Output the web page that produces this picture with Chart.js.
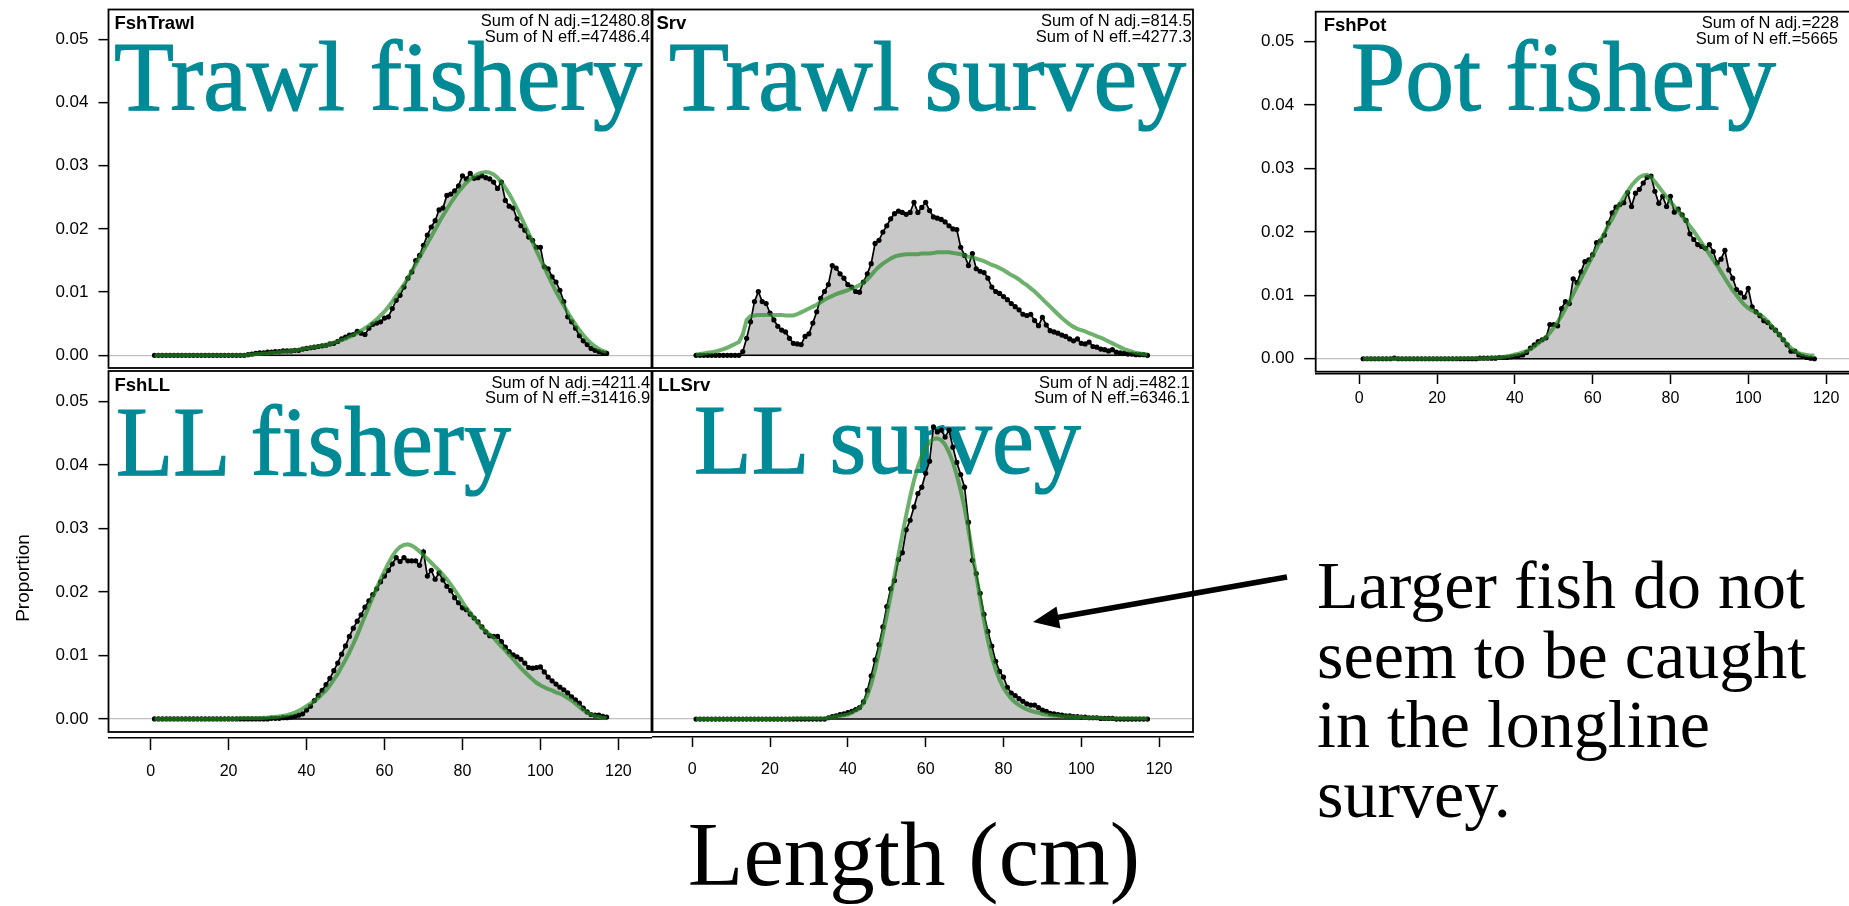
<!DOCTYPE html>
<html>
<head>
<meta charset="utf-8">
<script src="https://cdn.jsdelivr.net/npm/chart.js@4.4.1/dist/chart.umd.min.js"></script>
<style>
html, body { margin: 0; padding: 0; background: #fff; overflow: hidden; }
#wrap { position: relative; width: 1849px; height: 906px; overflow: hidden; background: #fff; }
#wrap canvas { position: absolute; z-index: 1; }
#back, #front { position: absolute; left: 0; top: 0; }
#back { z-index: 0; }
#front { z-index: 2; pointer-events: none; }
</style>
</head>
<body>
<div id="wrap">
<svg id="back" width="1849" height="906">
  <g font-family="Liberation Serif, 'Times New Roman', serif" font-size="100" fill="#008a96" stroke="#008a96" stroke-width="1.2">
    <text x="114" y="110" textLength="528" lengthAdjust="spacingAndGlyphs">Trawl fishery</text>
    <text x="669" y="110" textLength="517" lengthAdjust="spacingAndGlyphs">Trawl survey</text>
    <text x="1351" y="110" textLength="425" lengthAdjust="spacingAndGlyphs">Pot fishery</text>
    <text x="116" y="475" textLength="395" lengthAdjust="spacingAndGlyphs">LL fishery</text>
    <text x="694" y="473" textLength="387" lengthAdjust="spacingAndGlyphs">LL survey</text>
  </g>
</svg>
<canvas id="p1"></canvas>
<canvas id="p2"></canvas>
<canvas id="p3"></canvas>
<canvas id="p4"></canvas>
<canvas id="p5"></canvas>
<svg id="front" width="1849" height="906">
  <text transform="translate(28.5,578) rotate(-90)" text-anchor="middle" font-family="Liberation Sans, Arial, sans-serif" font-size="19" fill="#000">Proportion</text>
  <line x1="1287" y1="577" x2="1055" y2="618" stroke="#000" stroke-width="5.5"/>
  <polygon points="1033,622 1060.5,628.5 1056.5,606.5" fill="#000"/>
  <g font-family="Liberation Serif, 'Times New Roman', serif" font-size="68" fill="#000">
    <text x="1317" y="608">Larger fish do not</text>
    <text x="1317" y="678">seem to be caught</text>
    <text x="1317" y="747">in the longline</text>
    <text x="1317" y="817">survey.</text>
  </g>
  <text x="914" y="885" text-anchor="middle" font-family="Liberation Serif, 'Times New Roman', serif" font-size="91" fill="#000">Length (cm)</text>
</svg>
</div>
<script>
// length bins (cm)
const lengths = [1,2,3,4,5,6,7,8,9,10,11,12,13,14,15,16,17,18,19,20,
  21,22,23,24,25,26,27,28,29,30,31,32,33,34,35,36,37,38,39,40,
  41,42,43,44,45,46,47,48,49,50,51,52,53,54,55,56,57,58,59,60,
  61,62,63,64,65,66,67,68,69,70,71,72,73,74,75,76,77,78,79,80,
  81,82,83,84,85,86,87,88,89,90,91,92,93,94,95,96,97,98,99,100,
  101,102,103,104,105,106,107,108,109,110,111,112,113,114,115,116,117];

const yTickValues = [0, 0.01, 0.02, 0.03, 0.04, 0.05];
const xTickValues = [0, 20, 40, 60, 80, 100, 120];

const fleetNames = ['FshTrawl', 'Srv', 'FshPot', 'FshLL', 'LLSrv'];
const sumAdjText = ['Sum of N adj.=12480.8', 'Sum of N adj.=814.5', 'Sum of N adj.=228', 'Sum of N adj.=4211.4', 'Sum of N adj.=482.1'];
const sumEffText = ['Sum of N eff.=47486.4', 'Sum of N eff.=4277.3', 'Sum of N eff.=5665', 'Sum of N eff.=31416.9', 'Sum of N eff.=6346.1'];

// observed (black) and expected (green) proportions at length
const trawlObs = [0,0,0,0,0,0,0,0,0,0, 0,0,0,0,0,0,0,0,0,0,
  0,0,0,0,.0001,.0002,.0003,.0004,.0004,.0005,
  .0005,.0006,.0006,.0007,.0007,.0007,.0008,.0008,.001,.0011,
  .0012,.0013,.0014,.0015,.0016,.0018,.0019,.0022,.0026,.0029,
  .0032,.0033,.0038,.0035,.0033,.0043,.0049,.0051,.0053,.0059,
  .0061,.0074,.0087,.0095,.0108,.0122,.0132,.015,.0158,.0174,
  .019,.0203,.0213,.023,.0233,.0253,.0255,.026,.0268,.0284,
  .0279,.0288,.028,.0281,.0284,.0281,.0279,.0274,.0264,.0274,
  .0245,.0236,.0233,.0216,.0205,.0198,.0187,.0182,.0171,.0171,
  .014,.0137,.0124,.0116,.0103,.0085,.0061,.0053,.0043,.0031,
  .0023,.0017,.0011,.0008,.0006,.0004,.0003];
const trawlExp = [0,0,0,0,0,0,0,0,0,0, 0,0,0,0,0,0,0,0,0,0,
  0,0,0,0,.0001,.0001,.0002,.0002,.0003,.0003,
  .0004,.0004,.0005,.0006,.0006,.0007,.0008,.0009,.001,.0011,
  .0012,.0013,.0014,.0015,.0016,.0018,.002,.0022,.0024,.0026,
  .0029,.0032,.0035,.0039,.0043,.0047,.0052,.0057,.0063,.0069,
  .0077,.0085,.0094,.0103,.0112,.0122,.0133,.0144,.0155,.0166,
  .0177,.0188,.0199,.021,.0221,.0231,.0241,.025,.0259,.0266,
  .0273,.0279,.0283,.0287,.0289,.029,.0289,.0286,.0281,.0274,
  .0265,.0255,.0244,.0232,.0219,.0206,.0193,.0179,.0165,.0152,
  .0139,.0126,.0113,.0101,.009,.0079,.0068,.0058,.0049,.004,
  .0032,.0025,.0019,.0014,.001,.0007,.0005];

const srvObs = [0,0,0,0,0,0,0,0,0,0,
  0,0,.0006,.0027,.0053,.0085,.0101,.0085,.0082,.0067,
  .0056,.0046,.004,.0037,.0027,.0019,.0018,.0017,.003,.0034,
  .0051,.0069,.009,.0101,.0112,.0142,.0138,.0129,.0122,.0112,
  .0108,.0101,.01,.0116,.0129,.0145,.0177,.0182,.0195,.0205,
  .0216,.0224,.0228,.0226,.0223,.0226,.0242,.0226,.0234,.0242,
  .0229,.0219,.0217,.0215,.0211,.0205,.02,.0199,.0171,.0158,
  .0142,.0161,.0137,.0133,.0131,.0122,.0108,.0101,.0098,.0093,
  .0088,.0082,.0077,.0072,.0065,.0063,.0065,.0055,.0047,.006,
  .0048,.0039,.0037,.0035,.0032,.003,.0026,.0023,.0026,.0019,
  .0018,.0021,.0014,.0013,.001,.0009,.0007,.0009,.0005,.0004,
  .0003,.0002,.0002,.0001,.0001,.0001,0];
const srvExp = [.0001,.0002,.0003,.0004,.0005,.0006,.0008,.001,.0012,.0015,
  .0018,.0021,.0033,.0056,.0062,.0063,.0064,.0064,.0064,.0064,
  .0064,.0064,.0064,.0063,.0063,.0063,.0065,.0068,.0071,.0074,
  .0077,.008,.0084,.0088,.0091,.0094,.0097,.0099,.0101,.0103,
  .0106,.0108,.0111,.0115,.012,.0127,.0134,.014,.0145,.0149,
  .0153,.0156,.0158,.0159,.016,.016,.016,.016,.0161,.0161,
  .0161,.0162,.0163,.0163,.0163,.0163,.0162,.0161,.016,.0158,
  .0156,.0155,.0153,.0151,.0149,.0146,.0143,.0141,.0138,.0135,
  .0131,.0127,.0124,.012,.0115,.0111,.0106,.0101,.0095,.0089,
  .0083,.0077,.0071,.0065,.0059,.0054,.0049,.0045,.0042,.004,
  .0038,.0035,.0033,.003,.0028,.0025,.0022,.0019,.0016,.0013,
  .001,.0008,.0006,.0004,.0003,.0002,.0001];

const potObs = [0,0,0,0,0,0,0,0,.0001,0, 0,0,0,0,0,0,0,0,0,0,
  0,0,0,0,0,0,0,0,0,0,
  .0001,.0001,.0001,.0001,.0001,.0002,.0002,.0002,.0003,.0004,
  .0005,.0006,.001,.0017,.0022,.0027,.003,.0033,.0054,.0054,
  .0052,.0079,.009,.0087,.0126,.012,.0137,.0153,.0156,.0164,
  .0183,.0186,.0195,.0214,.023,.0239,.0243,.0246,.0262,.024,
  .0261,.0267,.0277,.0286,.0288,.0264,.0245,.0256,.024,.0256,
  .0231,.0236,.0227,.0218,.0197,.0188,.018,.0177,.0174,.018,
  .0169,.0151,.0157,.0171,.014,.0127,.0109,.0104,.0097,.0111,
  .0082,.0074,.0068,.006,.0057,.005,.0045,.0038,.003,.0022,
  .0012,.0012,.0006,.0004,.0002,.0001,0];
const potExp = [0,0,0,0,0,0,0,0,0,0, 0,0,0,0,0,0,0,0,0,0,
  0,0,0,0,0,.0001,.0001,.0001,.0001,.0001,
  .0001,.0001,.0001,.0002,.0002,.0002,.0003,.0004,.0005,.0007,
  .0008,.001,.0012,.0015,.0019,.0024,.0029,.0034,.0041,.0049,
  .0058,.0068,.0079,.009,.0102,.0114,.0126,.0138,.015,.0162,
  .0174,.0186,.0198,.021,.022,.0232,.0244,.0255,.0264,.0273,
  .028,.0286,.0289,.029,.0286,.0279,.0271,.0263,.0255,.0248,
  .024,.0233,.0225,.0217,.0209,.0201,.0192,.0183,.0174,.0165,
  .0156,.0147,.0137,.0127,.0117,.0108,.01,.0092,.0085,.008,
  .0076,.0073,.007,.0065,.0059,.0052,.0045,.0038,.003,.0023,
  .0017,.0012,.0009,.0007,.0006,.0005,.0005];

const llObs = [0,0,0,0,0,0,0,0,0,0, 0,0,0,0,0,0,0,0,0,0,
  0,0,0,0,0,0,0,0,0,0,
  .0001,.0001,.0001,.0002,.0002,.0003,.0004,.0006,.0008,.0014,
  .002,.0029,.0037,.0045,.0054,.0064,.0076,.0088,.0102,.0115,
  .013,.0143,.0154,.0164,.0176,.0186,.0196,.0205,.0216,.0225,
  .0234,.0244,.0254,.0248,.0254,.0249,.0249,.0249,.0242,.0263,
  .0225,.0234,.022,.023,.0219,.0209,.0202,.0191,.0183,.0175,
  .0172,.0165,.0159,.0153,.0145,.0137,.0131,.013,.013,.0122,
  .0113,.0106,.0101,.0098,.0094,.0088,.0081,.008,.0081,.0082,
  .0074,.0066,.006,.0055,.005,.0046,.0041,.0035,.003,.0025,
  .0017,.0011,.0007,.0006,.0006,.0004,.0003];
const llExp = [0,0,0,0,0,0,0,0,0,0, 0,0,0,0,0,0,0,0,0,0,
  0,0,.0001,.0001,.0001,.0001,.0001,.0001,.0002,.0002,
  .0003,.0003,.0004,.0005,.0006,.0008,.001,.0013,.0016,.002,
  .0024,.0028,.0033,.0039,.0045,.0053,.0062,.0071,.0082,.0093,
  .0105,.0118,.0132,.0147,.0162,.0177,.0192,.0206,.022,.0233,
  .0245,.0256,.0265,.0271,.0274,.0275,.0273,.0269,.0264,.0258,
  .0252,.0246,.024,.0234,.0227,.022,.0212,.0203,.0194,.0184,
  .0175,.0167,.0159,.0151,.0144,.0138,.0133,.0128,.0121,.0114,
  .0108,.0101,.0094,.0087,.008,.0074,.0068,.0062,.0057,.0053,
  .005,.0047,.0045,.0042,.004,.0037,.0033,.0029,.0024,.0019,
  .0014,.001,.0007,.0005,.0003,.0002,.0001];

const llSrvObs = [0,0,0,0,0,0,0,0,0,0, 0,0,0,0,0,0,0,0,0,0,
  0,0,0,0,0,0,0,0,0,0,
  0,0,0,0,.0002,.0004,.0005,.0007,.0008,.001,
  .0012,.0015,.0018,.0027,.0045,.0068,.0093,.0117,.0145,.0177,
  .0205,.0218,.0251,.0262,.0298,.0313,.0334,.0355,.0365,.0387,
  .0406,.046,.0452,.0455,.0444,.0455,.0428,.0404,.0385,.0365,
  .031,.025,.0229,.0198,.0165,.0138,.0115,.0091,.0075,.0066,
  .005,.0041,.0037,.0032,.0028,.0024,.0022,.0022,.0018,.0014,
  .0012,.0009,.0008,.0007,.0006,.0005,.0005,.0004,.0004,.0003,
  .0003,.0002,.0002,.0002,.0001,.0001,.0001,.0001,0,0,
  0,0,0,0,0,0,0];
const llSrvExp = [0,0,0,0,0,0,0,0,0,0, 0,0,0,0,0,0,0,0,0,0,
  0,0,0,0,0,.0001,.0001,.0001,.0001,.0001,
  .0001,.0001,.0001,.0001,.0002,.0003,.0004,.0005,.0006,.0007,
  .001,.0013,.0017,.0025,.0037,.0055,.0078,.0105,.0134,.0163,
  .0194,.0226,.0258,.029,.0321,.035,.0376,.0397,.0414,.0427,
  .0436,.0441,.0442,.0439,.0432,.042,.0404,.0384,.036,.0332,
  .0298,.0262,.0226,.019,.0155,.0124,.0098,.0078,.0062,.0049,
  .004,.0032,.0026,.0022,.0018,.0015,.0013,.0011,.001,.0008,
  .0007,.0006,.0005,.0005,.0004,.0004,.0004,.0003,.0003,.0003,
  .0002,.0002,.0002,.0002,.0002,.0001,.0001,.0001,.0001,.0001,
  .0001,.0001,.0001,.0001,.0001,.0001,.0001];

const FONT = "'Liberation Sans', Arial, Helvetica, sans-serif";
const GREEN = 'rgba(40,140,40,0.68)';

// frame round each panel (R style box)
const boxPlugin = {
  id: 'rbox',
  afterDatasetsDraw(chart, args, o) {
    const {ctx, chartArea: a} = chart;
    ctx.save();
    ctx.strokeStyle = '#000';
    ctx.lineWidth = 1.8;
    ctx.strokeRect(a.left, a.top, a.right - a.left, a.bottom - (o.gap || 0) - a.top);
    ctx.restore();
  }
};

// fleet name and sample size text
const labelPlugin = {
  id: 'flabel',
  afterDraw(chart, args, o) {
    const {ctx, chartArea: a} = chart;
    ctx.save();
    ctx.fillStyle = '#000';
    ctx.textBaseline = 'alphabetic';
    ctx.font = 'bold 18.5px ' + FONT;
    ctx.textAlign = 'left';
    ctx.fillText(o.name, a.left + o.nameDx, a.top + 19.5);
    ctx.font = '16.5px ' + FONT;
    if (o.sumLeft) {
      ctx.fillText(o.adj, a.left + o.sumLeft[0], a.top + 16.7);
      ctx.fillText(o.eff, a.left + o.sumLeft[1], a.top + 32.3);
    } else {
      ctx.textAlign = 'right';
      ctx.fillText(o.adj, a.right - o.sumDx, a.top + 16.7);
      ctx.fillText(o.eff, a.right - o.sumDx, a.top + 32.3);
    }
    ctx.restore();
  }
};

function makePanel(id, k, obs, exp, g) {
  const el = document.getElementById(id);
  const [L, T, R, B] = g.canvas;
  el.width = R - L; el.height = B - T;
  el.style.left = L + 'px'; el.style.top = T + 'px';
  el.style.width = (R - L) + 'px'; el.style.height = (B - T) + 'px';
  const [ax0, ay0, ax1, ay1] = g.area;
  const xh = g.xAxis ? (B - ay1) : 0;

  const xScale = g.xAxis ? {
    type: 'linear', min: g.xr[0], max: g.xr[1],
    afterBuildTicks: s => { s.ticks = xTickValues.map(v => ({value: v})); },
    afterFit: s => { s.height = xh; s.paddingLeft = 0; s.paddingRight = 0; },
    ticks: {font: {family: FONT, size: 16}, color: '#000', padding: g.xPad, maxRotation: 0, autoSkip: false},
    grid: {drawOnChartArea: false, drawTicks: true, tickLength: g.tickX, tickColor: '#000', tickWidth: 1.5},
    border: {display: true, color: '#000', width: 1.5}
  } : {type: 'linear', min: g.xr[0], max: g.xr[1], display: false};

  new Chart(el, {
    type: 'line',
    data: {
      datasets: [
        {label: 'Expected', data: lengths.map((x, i) => ({x: x, y: exp[i]})),
          borderColor: GREEN, borderWidth: 4, pointRadius: 0, fill: false},
        {label: 'base', data: [{x: lengths[0], y: 0}, {x: lengths[lengths.length - 1], y: 0}],
          borderColor: '#000', borderWidth: 1.5, pointRadius: 0, fill: false},
        {label: 'Observed', data: lengths.map((x, i) => ({x: x, y: obs[i]})),
          borderColor: '#000', borderWidth: 1.7, pointRadius: 2.6, pointBackgroundColor: '#000',
          pointBorderWidth: 0, fill: 'origin', backgroundColor: '#c8c8c8'}
      ]
    },
    options: {
      responsive: false, animation: false, events: [], devicePixelRatio: 1,
      layout: {padding: {left: ax0 - L - g.yw, top: ay0 - T, right: R - ax1, bottom: B - ay1 - xh}},
      scales: {
        x: xScale,
        y: {
          type: 'linear', min: g.yr[0], max: g.yr[1],
          afterBuildTicks: s => { s.ticks = yTickValues.map(v => ({value: v})); },
          afterFit: s => { s.width = g.yw; s.paddingTop = 0; s.paddingBottom = 0; },
          ticks: {display: g.yLabels, font: {family: FONT, size: 17}, color: '#000', padding: 10,
            callback: v => Number(v).toFixed(2)},
          grid: {drawTicks: g.yLabels, tickLength: g.tickY || 10, tickColor: '#000', tickWidth: 1.5,
            lineWidth: 1.3, color: c => (c.tick && c.tick.value === 0) ? '#c0c0c0' : 'rgba(0,0,0,0)'},
          border: {display: false}
        }
      },
      plugins: {
        legend: {display: false}, tooltip: {enabled: false},
        rbox: {gap: g.gap || 0},
        flabel: {name: fleetNames[k], adj: sumAdjText[k], eff: sumEffText[k],
          nameDx: g.nameDx, sumDx: g.sumDx, sumLeft: g.sumLeft}
      }
    },
    plugins: [boxPlugin, labelPlugin]
  });
}

makePanel('p1', 0, trawlObs, trawlExp, {canvas: [0, 0, 660, 372], area: [108.5, 9.5, 651.5, 370],
  yw: 108.5, yLabels: true, xAxis: false, xr: [-10.8, 128.5], yr: [-0.0020, 0.0547], nameDx: 6, sumDx: 1.5});
makePanel('p2', 1, srvObs, srvExp, {canvas: [645, 0, 1200, 372], area: [652.5, 9.5, 1193, 370],
  yw: 0, yLabels: false, xAxis: false, xr: [-10.2, 128.7], yr: [-0.0020, 0.0547], nameDx: 4, sumDx: 1.2});
makePanel('p3', 2, potObs, potExp, {canvas: [1200, 0, 1870, 420], area: [1315.7, 11.7, 1856, 374],
  yw: 115.7, yLabels: true, tickY: 11.5, xAxis: true, tickX: 10, xPad: 5, gap: 2.3,
  xr: [-11.2, 127.7], yr: [-0.0024, 0.0547], nameDx: 8, sumLeft: [386, 380]});
makePanel('p4', 3, llObs, llExp, {canvas: [0, 362, 660, 800], area: [108.5, 371, 651.5, 738],
  yw: 108.5, yLabels: true, xAxis: true, tickX: 12, xPad: 12, gap: 6,
  xr: [-10.8, 128.5], yr: [-0.0030, 0.0548], nameDx: 6, sumDx: 1.2});
makePanel('p5', 4, llSrvObs, llSrvExp, {canvas: [645, 362, 1200, 800], area: [652.5, 371, 1193, 737],
  yw: 0, yLabels: false, xAxis: true, tickX: 10, xPad: 13, gap: 5,
  xr: [-10.2, 128.7], yr: [-0.00283, 0.0548], nameDx: 5.4, sumDx: 3});
</script>
</body>
</html>
